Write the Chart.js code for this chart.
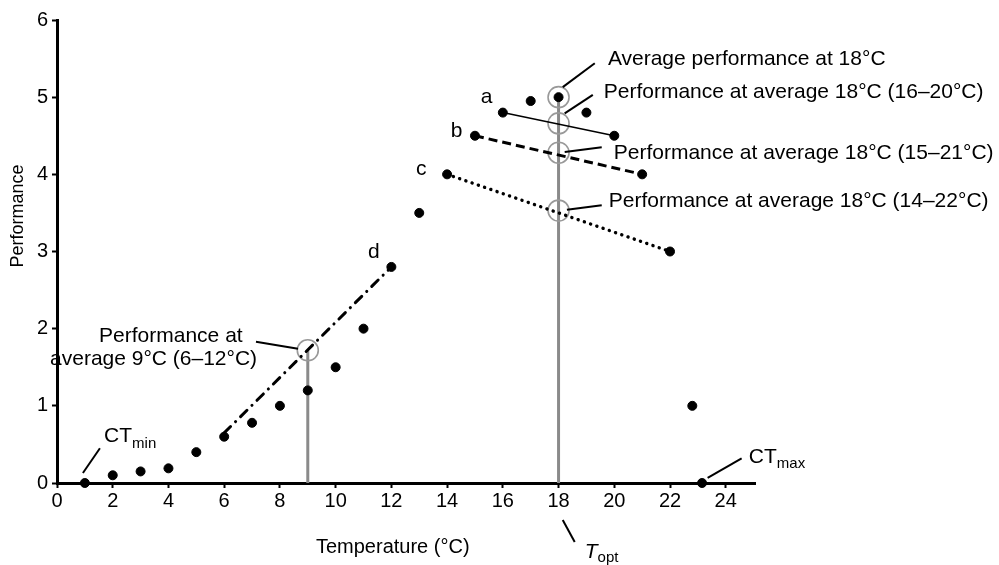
<!DOCTYPE html>
<html>
<head>
<meta charset="utf-8">
<script src="https://cdn.jsdelivr.net/npm/chart.js@4.4.1/dist/chart.umd.min.js"></script>
<style>
    html, body { margin: 0; padding: 0; background: #fff; }
</style>
</head>
<body>
<canvas id="chart" width="999" height="565"></canvas>
<script>
// observed performance at each temperature
const temps = [1, 2, 3, 4, 5, 6, 7, 8, 9, 10, 11, 12, 13, 14, 15, 16, 17, 18, 19, 20, 21, 22, 22.8, 23.15]
const perf = [0, 0.1, 0.15, 0.19, 0.4, 0.6, 0.78, 1.0, 1.2, 1.5, 2.0, 2.8, 3.5, 4.0, 4.5, 4.8, 4.95, 5.0, 4.8, 4.5, 4.0, 3.0, 1.0, 0]

// fitted lines over the temperature ranges
const lineA = [[16, 4.8], [20, 4.5]]
const lineB = [[15, 4.5], [21, 4.0]]
const lineC = [[14, 4.0], [22, 3.0]]
const lineD = [[6, 0.65], [12, 2.8]]

// averages read at the mean temperature
const toptLine = [[18, 0], [18, 4.98]]
const nineLine = [[9, 0], [9, 1.72]]
const circles = [[18, 5.0], [18, 4.66], [18, 4.28], [18, 3.53], [9, 1.72]]

const xTicks = [0, 2, 4, 6, 8, 10, 12, 14, 16, 18, 20, 22, 24]
const yTicks = [0, 1, 2, 3, 4, 5, 6]

const FONT = "'Liberation Sans', Arial, sans-serif"
const toXY = (pairs) => pairs.map(([x, y]) => ({ x, y }))

// annotation texts, placed in data units
const labels = [
    { x: 19.77, y: 5.42, parts: [{ t: 'Average performance at 18°C' }] },
    { x: 19.62, y: 4.99, parts: [{ t: 'Performance at average 18°C (16–20°C)' }] },
    { x: 19.98, y: 4.2, parts: [{ t: 'Performance at average 18°C (15–21°C)' }] },
    { x: 19.8, y: 3.58, parts: [{ t: 'Performance at average 18°C (14–22°C)' }] },
    { x: 1.51, y: 1.83, parts: [{ t: 'Performance at' }] },
    { x: -0.25, y: 1.53, parts: [{ t: 'average 9°C (6–12°C)' }] },
    { x: 1.69, y: 0.53, parts: [{ t: 'CT' }, { t: 'min', size: 15, dy: 6 }] },
    { x: 24.83, y: 0.26, parts: [{ t: 'CT' }, { t: 'max', size: 15, dy: 5 }] },
    { x: 18.94, y: -0.97, parts: [{ t: 'T', italic: true }, { t: 'opt', size: 15, dy: 4 }] },
    { x: 15.21, y: 4.92, parts: [{ t: 'a' }] },
    { x: 14.13, y: 4.48, parts: [{ t: 'b' }] },
    { x: 12.88, y: 3.99, parts: [{ t: 'c' }] },
    { x: 11.16, y: 2.92, parts: [{ t: 'd' }] }
]
const leaders = [
    [18.15, 5.13, 19.3, 5.44],
    [18.22, 4.79, 19.23, 5.03],
    [18.22, 4.29, 19.55, 4.35],
    [18.3, 3.54, 19.55, 3.6],
    [7.14, 1.83, 8.65, 1.74],
    [0.93, 0.13, 1.54, 0.45],
    [23.35, 0.065, 24.57, 0.32],
    [18.15, -0.48, 18.58, -0.765]
]

const annotate = {
    id: 'annotate',
    afterDraw(chart) {
        const { ctx, scales } = chart
        const px = (v) => scales.x.getPixelForValue(v)
        const py = (v) => scales.y.getPixelForValue(v)
        ctx.save()
        ctx.strokeStyle = '#000'
        ctx.lineWidth = 2
        leaders.forEach(([x1, y1, x2, y2]) => {
            ctx.beginPath()
            ctx.moveTo(px(x1), py(y1))
            ctx.lineTo(px(x2), py(y2))
            ctx.stroke()
        })
        ctx.fillStyle = '#000'
        ctx.textBaseline = 'alphabetic'
        labels.forEach((label) => {
            let cx = px(label.x)
            const base = py(label.y)
            label.parts.forEach((part) => {
                ctx.font = `${part.italic ? 'italic ' : ''}${part.size || 21}px ${FONT}`
                ctx.fillText(part.t, cx, base + (part.dy || 0))
                cx += ctx.measureText(part.t).width
            })
        })
        // axis titles
        ctx.font = `20px ${FONT}`
        ctx.textAlign = 'center'
        ctx.fillText('Temperature (°C)', px(12.05), py(-0.91))
        ctx.translate(px(-1.4), py(3.46))
        ctx.rotate(-Math.PI / 2)
        ctx.font = `18px ${FONT}`
        ctx.textBaseline = 'middle'
        ctx.fillText('Performance', 0, 0)
        ctx.restore()
    }
}

const axisStyle = {
    border: { color: '#000', width: 3 },
    grid: { display: true, drawOnChartArea: false, drawTicks: true, tickLength: 5, tickWidth: 2, tickColor: '#000' },
    ticks: { color: '#000', font: { family: FONT, size: 20 } }
}

new Chart(document.getElementById('chart').getContext('2d'), {
    type: 'scatter',
    data: {
        datasets: [
            {
                label: 'observed',
                data: temps.map((t, i) => ({ x: t, y: perf[i] })),
                backgroundColor: '#000',
                borderColor: '#000',
                pointRadius: 4.5,
                clip: false
            },
            {
                label: 'a',
                data: toXY(lineA),
                showLine: true,
                borderColor: '#000',
                borderWidth: 1.5,
                pointRadius: 0
            },
            {
                label: 'b',
                data: toXY(lineB),
                showLine: true,
                borderColor: '#000',
                borderWidth: 3,
                borderDash: [9, 5],
                pointRadius: 0
            },
            {
                label: 'c',
                data: toXY(lineC),
                showLine: true,
                borderColor: '#000',
                borderWidth: 3.4,
                borderCapStyle: 'round',
                borderDash: [0.1, 6.5],
                pointRadius: 0
            },
            {
                label: 'd',
                data: toXY(lineD),
                showLine: true,
                borderColor: '#000',
                borderWidth: 3,
                borderCapStyle: 'round',
                borderDash: [9, 7, 0.1, 7],
                pointRadius: 0
            },
            {
                label: 'circles',
                data: toXY(circles),
                backgroundColor: 'rgba(0,0,0,0)',
                borderColor: '#999999',
                borderWidth: 1.6,
                pointRadius: 10.5
            },
            {
                label: 'Topt',
                data: toXY(toptLine),
                showLine: true,
                borderColor: '#8a8a8a',
                borderWidth: 3,
                pointRadius: 0
            },
            {
                label: '9C',
                data: toXY(nineLine),
                showLine: true,
                borderColor: '#8a8a8a',
                borderWidth: 3,
                pointRadius: 0
            }
        ]
    },
    options: {
        responsive: false,
        animation: false,
        layout: { padding: { top: 20, right: 244, bottom: 0, left: 0 } },
        plugins: { legend: { display: false }, tooltip: { enabled: false } },
        scales: {
            x: {
                ...axisStyle,
                min: 0,
                max: 25.05,
                afterBuildTicks: (scale) => {
                    scale.ticks = xTicks.map((value) => ({ value }))
                },
                afterFit: (scale) => { scale.height = 82 },
                ticks: { ...axisStyle.ticks, padding: 1 }
            },
            y: {
                ...axisStyle,
                min: 0,
                max: 6,
                afterBuildTicks: (scale) => {
                    scale.ticks = yTicks.map((value) => ({ value }))
                },
                afterFit: (scale) => { scale.width = 57 },
                ticks: { ...axisStyle.ticks, padding: 4 }
            }
        }
    },
    plugins: [annotate]
})
</script>
</body>
</html>
